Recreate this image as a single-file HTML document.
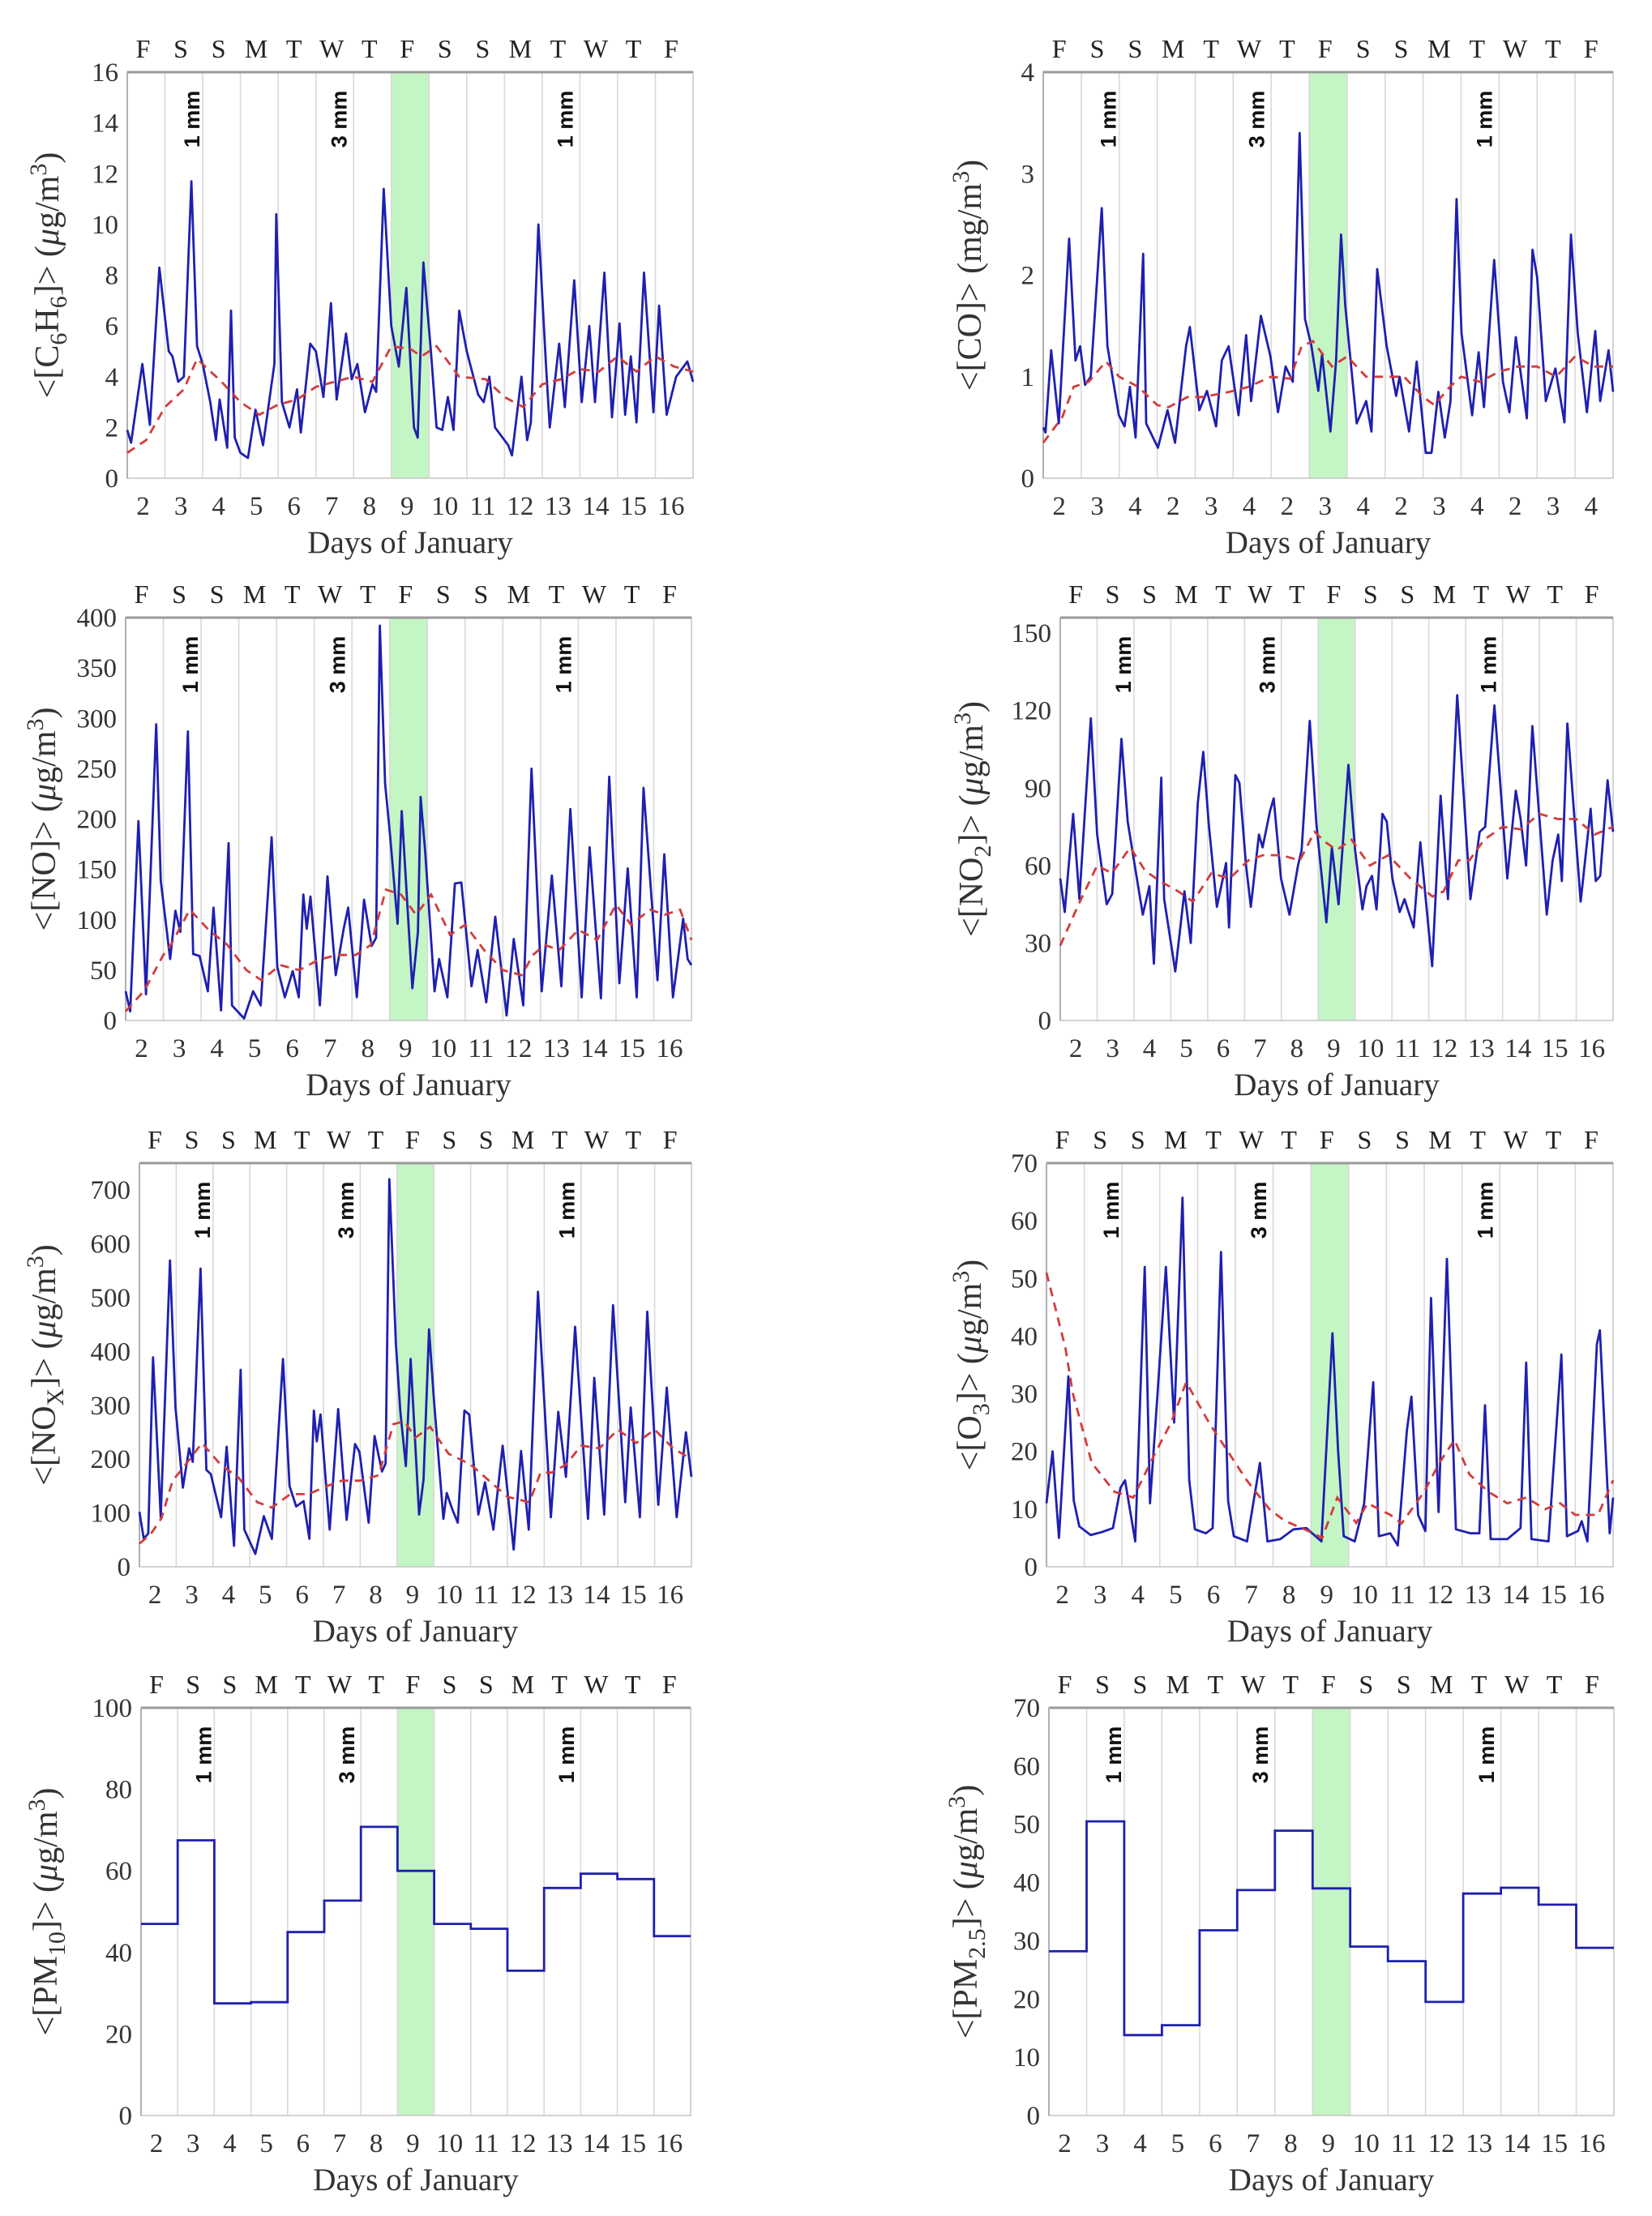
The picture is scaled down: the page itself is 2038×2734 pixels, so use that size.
<!DOCTYPE html>
<html><head><meta charset="utf-8"><title>Air pollutant concentrations, 2–16 January</title>
<style>
html,body{margin:0;padding:0;background:#fff}svg{display:block}
.serif{font-family:'Liberation Serif','Times New Roman',serif}
.sans{font-family:'Liberation Sans',Arial,sans-serif}
</style></head>
<body>
<svg id="fig" xmlns="http://www.w3.org/2000/svg" width="2038" height="2734" viewBox="0 0 2038 2734">
<rect x="0" y="0" width="2038" height="2734" fill="#fff"/>
</svg>
<script>
// ---------- DATA ----------
const weekdayLetters = ["F","S","S","M","T","W","T","F","S","S","M","T","W","T","F"];
const dayLabels = ["2","3","4","5","6","7","8","9","10","11","12","13","14","15","16"];
const dayLabelsCO = ["2","3","4","2","3","4","2","3","4","2","3","4","2","3","4"];
const rainTimes = [1.72, 5.62, 11.62];
const rainLabels = ["1 mm","3 mm","1 mm"];
const highlightStart = 7, highlightEnd = 8;

const c6h6Ticks = [0,2,4,6,8,10,12,14,16];
const c6h6Times = [0,0.1,0.4,0.6,0.85,1.1,1.2,1.35,1.5,1.7,1.85,2.0,2.2,2.35,2.45,2.65,2.75,2.85,3.0,3.2,3.4,3.6,3.9,3.95,4.1,4.3,4.5,4.6,4.85,5.0,5.2,5.4,5.55,5.8,5.95,6.1,6.3,6.5,6.6,6.8,7.0,7.2,7.4,7.6,7.7,7.85,8.05,8.2,8.35,8.5,8.65,8.8,9.0,9.3,9.45,9.6,9.75,10.1,10.2,10.45,10.6,10.7,10.9,11.1,11.2,11.45,11.6,11.85,12.05,12.25,12.4,12.65,12.85,13.05,13.2,13.35,13.5,13.7,13.95,14.1,14.3,14.55,14.85,15];
const c6h6Values = [1.9,1.4,4.5,2.1,8.3,5,4.8,3.8,4.0,11.7,5.2,4.5,3.0,1.5,3.1,1.2,6.6,1.6,1.0,0.8,2.7,1.3,4.5,10.4,3.0,2.0,3.5,1.8,5.3,5.0,3.2,6.9,3.1,5.7,3.9,4.5,2.6,3.7,3.4,11.4,6.0,4.4,7.5,2.0,1.6,8.5,5.0,2.0,1.9,3.2,1.9,6.6,5,3.3,3.0,4.0,2.0,1.3,0.9,4.0,1.5,2.2,10.0,4.5,2.0,5.3,2.8,7.8,3,6,3.0,8.1,2.4,6.1,2.5,4.8,2.2,8.1,2.6,6.8,2.5,4.0,4.6,3.8];
const c6h6TrendTimes = [0,0.5,1.0,1.5,1.85,2.5,3.0,3.5,4.0,4.5,5.0,5.5,6.0,6.5,7.0,7.5,7.8,8.2,8.8,9.5,10.0,10.5,11.0,11.5,12.0,12.5,13.0,13.5,14.0,14.5,15];
const c6h6TrendValues = [1.0,1.5,2.8,3.5,4.7,3.8,3.0,2.5,2.9,3.1,3.6,3.8,4.0,3.8,5.2,5.1,4.8,5.2,4.0,3.9,3.2,2.8,3.7,3.9,4.3,4.2,4.8,4.2,4.8,4.4,4.2];

const coTicks = [0,1,2,3,4];
const coTimes = [0,0.06,0.21,0.41,0.68,0.85,0.97,1.1,1.25,1.54,1.69,1.99,2.14,2.28,2.43,2.63,2.71,3.02,3.27,3.47,3.76,3.86,4.11,4.31,4.55,4.7,4.88,5.14,5.34,5.47,5.73,5.98,6.18,6.38,6.57,6.75,6.89,7.06,7.24,7.34,7.56,7.71,7.84,7.95,8.25,8.5,8.64,8.79,9.04,9.29,9.38,9.63,9.83,10.07,10.22,10.4,10.57,10.72,10.88,11.01,11.29,11.46,11.6,11.87,12.1,12.27,12.44,12.73,12.88,13.0,13.23,13.48,13.72,13.89,14.07,14.31,14.53,14.66,14.88,15];
const coValues = [0.5,0.45,1.26,0.54,2.36,1.16,1.3,0.92,1.0,2.66,1.3,0.62,0.51,0.9,0.4,2.21,0.54,0.3,0.67,0.35,1.3,1.49,0.67,0.86,0.51,1.16,1.3,0.62,1.41,0.76,1.6,1.2,0.65,1.1,0.95,3.4,1.57,1.3,0.86,1.22,0.46,1.16,2.4,1.7,0.54,0.76,0.46,2.06,1.3,0.81,1.0,0.46,1.15,0.25,0.25,0.85,0.4,0.76,2.75,1.43,0.62,1.24,0.7,2.15,0.95,0.65,1.39,0.59,2.25,1.98,0.76,1.08,0.55,2.4,1.43,0.65,1.45,0.76,1.26,0.85];
const coTrendTimes = [0,0.5,0.8,1.2,1.65,2.0,2.5,3.0,3.3,3.8,4.2,4.9,5.4,6.0,6.5,6.8,7.1,7.6,8.0,8.5,9.0,9.5,10.0,10.3,10.7,11.0,11.5,12.0,12.5,13.0,13.5,14.0,14.5,15];
const coTrendValues = [0.35,0.6,0.9,0.95,1.15,1.0,0.9,0.72,0.7,0.8,0.8,0.85,0.9,1.0,0.98,1.3,1.35,1.1,1.2,1.0,1.0,1.0,0.8,0.72,0.9,1.0,0.95,1.05,1.1,1.1,1.0,1.2,1.1,1.1];

const noTicks = [0,50,100,150,200,250,300,350,400];
const noTimes = [0,0.12,0.34,0.54,0.81,0.93,1.18,1.32,1.45,1.65,1.79,1.96,2.18,2.33,2.53,2.73,2.82,3.14,3.38,3.58,3.87,4.02,4.22,4.43,4.59,4.71,4.8,4.9,5.15,5.35,5.57,5.78,5.9,6.13,6.32,6.52,6.64,6.74,6.88,7.01,7.21,7.32,7.6,7.75,7.82,7.94,8.19,8.31,8.53,8.73,8.9,9.17,9.33,9.56,9.8,10.1,10.29,10.54,10.76,11.03,11.3,11.55,11.79,12.09,12.3,12.6,12.82,13.09,13.31,13.55,13.73,14.1,14.28,14.51,14.78,14.9,15];
const noValues = [29,9,198,26,294,139,61,109,88,287,66,64,29,112,10,176,15,2,29,15,182,53,23,49,23,125,91,123,15,143,45,91,112,23,120,74,82,392,235,184,96,208,32,88,222,168,29,61,23,136,137,34,70,18,103,5,81,15,250,29,144,34,210,23,172,22,242,37,151,23,231,40,165,23,101,61,55];
const noTrendTimes = [0,0.5,1.0,1.2,1.7,2.2,2.7,3.2,3.6,4.1,4.6,5.1,5.6,6.1,6.5,6.9,7.3,7.7,8.1,8.6,9.0,9.5,10.0,10.5,10.8,11.1,11.5,12.0,12.5,13.0,13.4,13.9,14.3,14.7,15];
const noTrendValues = [9,30,65,75,110,90,75,50,40,55,50,60,65,65,75,130,125,105,125,85,95,70,50,45,65,75,70,90,80,115,95,110,105,110,80];

const no2Ticks = [0,30,60,90,120,150];
const no2Times = [0,0.12,0.35,0.52,0.83,1.0,1.26,1.41,1.66,1.83,2.01,2.24,2.42,2.54,2.74,2.82,3.12,3.37,3.54,3.73,3.88,4.03,4.25,4.5,4.58,4.75,4.86,5.04,5.17,5.39,5.49,5.69,5.79,5.99,6.22,6.45,6.55,6.77,6.95,7.22,7.37,7.55,7.82,8.0,8.2,8.31,8.46,8.58,8.74,8.86,9.01,9.21,9.34,9.45,9.59,9.77,10.09,10.32,10.52,10.77,11.13,11.38,11.53,11.78,12.13,12.36,12.49,12.64,12.81,13.2,13.36,13.51,13.61,13.76,14.12,14.39,14.53,14.65,14.85,15];
const no2Values = [55,42,80,47,117,72,45,49,109,77,61,41,52,22,94,47,19,50,30,84,104,76,44,61,36,95,92,60,44,72,67,81,86,55,41,60,66,116,76,38,67,45,99,66,43,52,56,43,80,77,55,42,47,42,36,69,21,87,47,126,47,73,75,122,55,89,78,60,114,41,62,72,54,115,46,82,54,56,93,73];
const no2TrendTimes = [0,0.5,1.0,1.4,1.9,2.3,2.7,3.2,3.6,4.1,4.6,5.1,5.5,6.0,6.5,6.9,7.2,7.5,7.9,8.4,8.9,9.5,10.1,10.4,10.8,11.1,11.5,12.0,12.5,13.0,13.5,14.0,14.5,15];
const no2TrendValues = [29,45,60,57,67,58,54,50,46,57,55,62,64,64,62,73,69,66,70,60,64,55,48,50,62,62,70,75,74,80,78,78,72,75];

const noxTicks = [0,100,200,300,400,500,600,700];
const noxTimes = [0,0.12,0.24,0.37,0.58,0.83,0.98,1.18,1.35,1.45,1.66,1.82,1.94,2.22,2.37,2.57,2.75,2.85,3.15,3.38,3.6,3.9,4.08,4.26,4.46,4.62,4.74,4.82,4.92,5.17,5.4,5.63,5.86,5.98,6.23,6.39,6.59,6.69,6.79,6.97,7.09,7.24,7.37,7.6,7.72,7.87,8.0,8.26,8.35,8.5,8.65,8.83,8.96,9.21,9.39,9.62,9.87,10.17,10.37,10.58,10.83,11.18,11.38,11.59,11.84,12.19,12.36,12.63,12.87,13.2,13.35,13.6,13.8,14.1,14.33,14.6,14.85,15];
const noxValues = [102,52,62,389,92,569,296,147,220,195,554,180,172,92,223,39,366,69,24,94,52,386,150,112,122,52,290,233,283,69,293,87,228,213,82,243,177,192,720,414,288,187,386,97,162,441,313,89,137,107,82,290,283,97,157,69,225,32,215,69,511,92,288,167,446,89,351,97,486,120,296,92,474,115,333,92,250,167];
const noxTrendTimes = [0,0.3,0.6,0.9,1.2,1.7,2.2,2.7,3.2,3.6,4.1,4.6,5.1,5.5,6.0,6.5,6.9,7.2,7.5,7.9,8.4,9.0,9.5,10.0,10.6,10.9,11.2,11.6,12.0,12.5,13.0,13.5,14.0,14.5,15];
const noxTrendValues = [43,60,90,160,185,230,190,165,120,110,135,135,150,160,160,170,265,270,240,260,210,190,160,130,120,175,175,190,225,220,255,230,255,220,200];

const o3Ticks = [0,10,20,30,40,50,60,70];
const o3Times = [0,0.16,0.33,0.58,0.72,0.87,1.17,1.46,1.76,1.96,2.08,2.35,2.6,2.74,2.94,3.16,3.38,3.6,3.78,3.93,4.22,4.4,4.62,4.81,4.96,5.31,5.65,5.85,6.19,6.54,6.88,7.28,7.57,7.72,7.87,8.16,8.41,8.65,8.8,9.1,9.3,9.54,9.66,9.84,10.03,10.18,10.38,10.6,10.84,11.22,11.46,11.61,11.76,12.2,12.55,12.7,12.84,13.29,13.63,13.78,14.07,14.17,14.32,14.57,14.65,14.76,14.91,15];
const o3Values = [11,20,5,33,11.5,7,5.5,6,6.7,13.7,15,4.4,52,11,30,52,25,64,15,6.5,5.8,6.7,54.6,11.4,5.3,4.4,18,4.4,4.8,6.5,6.7,4.4,40.5,20,5.3,4.4,11,32,5.3,5.8,3.7,23.6,29.5,9,6.2,46.6,9.5,53.4,6.5,5.8,5.8,28,4.8,4.8,6.7,35.4,4.8,4.4,36.8,5.3,6.2,7.9,4.4,38.6,41,26,5.8,12];
const o3TrendTimes = [0,0.5,0.7,1.2,1.8,2.3,2.9,3.3,3.7,4.3,4.6,5.3,5.9,6.3,7.0,7.3,7.7,8.2,8.5,9.1,9.4,10.0,10.4,10.8,11.2,11.7,12.2,12.7,13.2,13.6,14.0,14.6,15];
const o3TrendValues = [51,38,30,18,13,12,20,25,32,25,22,15,10,8,6,5,12,7.6,11,9,7.5,13,18,22,16,13,11,12,10,11,9,9,15];

const pm10Ticks = [0,20,40,60,80,100];
const pm10Daily = [47,67.5,27.5,27.8,45,52.7,70.8,60,47,45.8,35.5,55.8,59.3,58,44];
const pm25Ticks = [0,10,20,30,40,50,60,70];
const pm25Daily = [28.2,50.5,13.8,15.5,31.8,38.7,48.9,39.0,29.0,26.5,19.5,38.1,39.1,36.2,28.8];

// ---------- LAYOUT ----------
const NS = "http://www.w3.org/2000/svg";
const svg = document.getElementById("fig");

function mk(tag, attrs, parent) {
  const e = document.createElementNS(NS, tag);
  for (const k in attrs) e.setAttribute(k, attrs[k]);
  parent.appendChild(e);
  return e;
}

function drawPanel(p) {
  const g = mk("g", {}, svg);
  
  
  const W = p.R - p.L, H = p.B - p.T;
  const xs = t => p.L + t / 15 * W;
  const ys = v => p.B - v / p.ymax * H;

  const band = mk("rect", {x: xs(highlightStart), y: p.T, width: xs(highlightEnd) - xs(highlightStart), height: H, fill: "#c4f5c4"}, g);
  
  

  for (let i = 1; i < 15; i++) {
    const gl = mk("line", {x1: xs(i), x2: xs(i), y1: p.T, y2: p.B, stroke: "#d9d9d9", "stroke-width": 1.6}, g);
    
    
  }
  const fr = mk("rect", {x: p.L, y: p.T, width: W, height: H, fill: "none", stroke: "#c8c8c8", "stroke-width": 1.6}, g);
  
  
  const topAx = mk("line", {x1: p.L, x2: p.R, y1: p.T, y2: p.T, stroke: "#9a9a9a", "stroke-width": 3}, g);
  
  
  const leftAx = mk("line", {x1: p.L, x2: p.L, y1: p.T, y2: p.B, stroke: "#b0b0b0", "stroke-width": 2}, g);
  
  

  p.ticks.forEach(v => {
    const tl = mk("text", {x: p.L - 11, y: ys(v) + 11, "text-anchor": "end", "class": "serif", "font-size": 33, fill: "#333"}, g);
    tl.textContent = v;
    
    
  });
  weekdayLetters.forEach((s, i) => {
    const t = mk("text", {x: xs(i + 0.42), y: p.T - 18, "text-anchor": "middle", "class": "serif", "font-size": 32, fill: "#222"}, g);
    t.textContent = s;
    
    
  });
  p.days.forEach((s, i) => {
    const t = mk("text", {x: xs(i + 0.42), y: p.B + 45, "text-anchor": "middle", "class": "serif", "font-size": 33, fill: "#333"}, g);
    t.textContent = s;
    
    
  });
  const xl = mk("text", {x: (p.L + p.R) / 2, y: p.B + 92, "text-anchor": "middle", "class": "serif", "font-size": 39, fill: "#333"}, g);
  xl.textContent = "Days of January";
  
  

  const yl = mk("text", {transform: "translate(" + p.labelX + "," + ((p.T + p.B) / 2) + ") rotate(-90)", "text-anchor": "middle", "class": "serif", "font-size": 42, fill: "#333"}, g);
  
  
  let shift = 0;
  p.label.forEach(([txt, mode]) => {
    const ts = mk("tspan", {}, yl);
    let target = 0;
    if (mode === "sub") { target = 10; ts.setAttribute("font-size", 30); }
    else if (mode === "sup") { target = -15; ts.setAttribute("font-size", 30); }
    else if (mode === "it") { ts.setAttribute("font-style", "italic"); }
    if (target !== shift) { ts.setAttribute("dy", target - shift); shift = target; }
    ts.textContent = txt;
  });

  rainTimes.forEach((t, i) => {
    const r = mk("text", {transform: "translate(" + xs(t) + "," + (p.T + 58) + ") rotate(-90)", "text-anchor": "middle", "dominant-baseline": "central", "class": "sans", "font-weight": "bold", "font-size": 27, fill: "#111"}, g);
    r.textContent = rainLabels[i];
    
    
  });

  if (p.times) {
    const n = Math.min(p.times.length, p.values.length);
    let pts = [];
    for (let i = 0; i < n; i++) pts.push(xs(p.times[i]).toFixed(1) + "," + ys(p.values[i]).toFixed(1));
    const line = mk("polyline", {points: pts.join(" "), fill: "none", stroke: "#1f1fb0", "stroke-width": 2.8, "stroke-linejoin": "round"}, g);
    
    
    const m = Math.min(p.trendTimes.length, p.trendValues.length);
    pts = [];
    for (let i = 0; i < m; i++) pts.push(xs(p.trendTimes[i]).toFixed(1) + "," + ys(p.trendValues[i]).toFixed(1));
    const tr = mk("polyline", {points: pts.join(" "), fill: "none", stroke: "#d23c3c", "stroke-width": 2.8, "stroke-dasharray": "11 8"}, g);
    
    
  } else {
    let d = "";
    p.daily.forEach((v, i) => {
      d += (i === 0 ? "M" : "L") + xs(i).toFixed(1) + "," + ys(v).toFixed(1) + " L" + xs(i + 1).toFixed(1) + "," + ys(v).toFixed(1) + " ";
    });
    const st = mk("path", {d: d, fill: "none", stroke: "#1f1fb0", "stroke-width": 2.8}, g);
    
    
  }
}

const UG = [[" (", ""], ["μ", "it"], ["g/m", ""], ["3", "sup"], [")", ""]];
drawPanel({id: "benzene", L: 157, R: 855, T: 89, B: 590, ymax: 16, ticks: c6h6Ticks, days: dayLabels, labelX: 72,
  label: [["<[C", ""], ["6", "sub"], ["H", ""], ["6", "sub"], ["]>", ""]].concat(UG),
  times: c6h6Times, values: c6h6Values, trendTimes: c6h6TrendTimes, trendValues: c6h6TrendValues});
drawPanel({id: "co", L: 1287, R: 1990, T: 89, B: 590, ymax: 4, ticks: coTicks, days: dayLabelsCO, labelX: 1210,
  label: [["<[CO]> (mg/m", ""], ["3", "sup"], [")", ""]],
  times: coTimes, values: coValues, trendTimes: coTrendTimes, trendValues: coTrendValues});
drawPanel({id: "no", L: 155, R: 853, T: 762, B: 1259, ymax: 400, ticks: noTicks, days: dayLabels, labelX: 68,
  label: [["<[NO]>", ""]].concat(UG),
  times: noTimes, values: noValues, trendTimes: noTrendTimes, trendValues: noTrendValues});
drawPanel({id: "no2", L: 1308, R: 1990, T: 762, B: 1259, ymax: 156, ticks: no2Ticks, days: dayLabels, labelX: 1212,
  label: [["<[NO", ""], ["2", "sub"], ["]>", ""]].concat(UG),
  times: no2Times, values: no2Values, trendTimes: no2TrendTimes, trendValues: no2TrendValues});
drawPanel({id: "nox", L: 172, R: 853, T: 1435, B: 1933, ymax: 750, ticks: noxTicks, days: dayLabels, labelX: 68,
  label: [["<[NO", ""], ["X", "sub"], ["]>", ""]].concat(UG),
  times: noxTimes, values: noxValues, trendTimes: noxTrendTimes, trendValues: noxTrendValues});
drawPanel({id: "o3", L: 1291, R: 1990, T: 1435, B: 1933, ymax: 70, ticks: o3Ticks, days: dayLabels, labelX: 1210,
  label: [["<[O", ""], ["3", "sub"], ["]>", ""]].concat(UG),
  times: o3Times, values: o3Values, trendTimes: o3TrendTimes, trendValues: o3TrendValues});
drawPanel({id: "pm10", L: 174, R: 852, T: 2107, B: 2610, ymax: 100, ticks: pm10Ticks, days: dayLabels, labelX: 70,
  label: [["<[PM", ""], ["10", "sub"], ["]>", ""]].concat(UG), daily: pm10Daily});
drawPanel({id: "pm25", L: 1294, R: 1991, T: 2107, B: 2610, ymax: 70, ticks: pm25Ticks, days: dayLabels, labelX: 1205,
  label: [["<[PM", ""], ["2.5", "sub"], ["]>", ""]].concat(UG), daily: pm25Daily});
</script>
</body></html>
